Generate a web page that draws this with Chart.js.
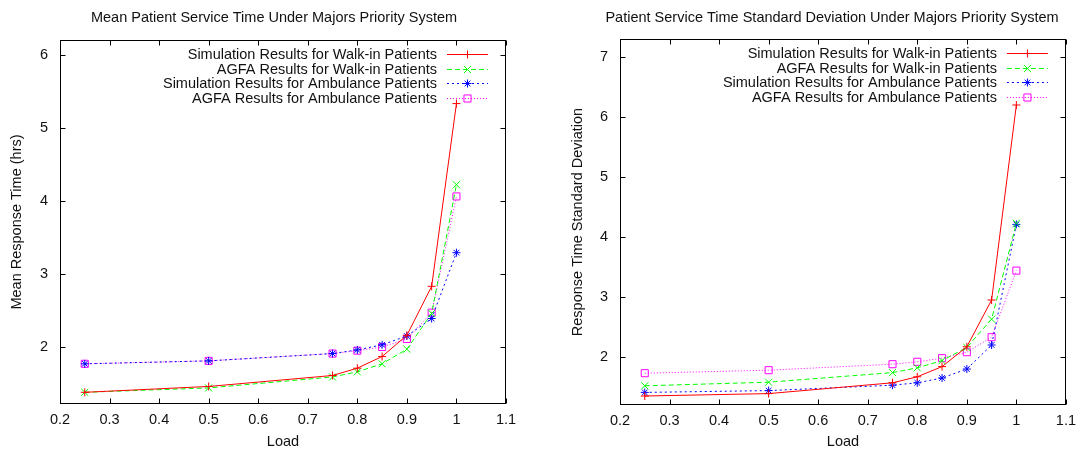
<!DOCTYPE html>
<html>
<head>
<meta charset="utf-8">
<script src="https://cdn.jsdelivr.net/npm/chart.js@4.4.0/dist/chart.umd.min.js"></script>
<style>
    html, body { margin: 0; padding: 0; background: #fff; }
    #wrap { position: relative; width: 1083px; height: 452px; }
    canvas { position: absolute; top: 0; }
    #c-mean { left: 0; }
    #c-sd { left: 541px; }
</style>
</head>
<body>
<div id="wrap">
    <canvas id="c-mean" width="541" height="452"></canvas>
    <canvas id="c-sd" width="542" height="452"></canvas>
</div>
<script>
// Dữ liệu (load = trục x)
const loads = [0.25, 0.5, 0.75, 0.8, 0.85, 0.9, 0.95, 1.0];
const xTicks = [0.2, 0.3, 0.4, 0.5, 0.6, 0.7, 0.8, 0.9, 1, 1.1];

const seriesLabels = [
    'Simulation Results for Walk-in Patients',
    'AGFA Results for Walk-in Patients',
    'Simulation Results for Ambulance Patients',
    'AGFA Results for Ambulance Patients',
];

// Biểu đồ trái: thời gian phục vụ trung bình (giờ)
const meanWalkSim  = [1.38, 1.46, 1.61, 1.71, 1.87, 2.16, 2.83, 5.33];
const meanWalkAgfa = [1.38, 1.44, 1.59, 1.66, 1.77, 1.97, 2.46, 4.22];
const meanAmbSim   = [1.77, 1.81, 1.91, 1.96, 2.03, 2.15, 2.39, 3.29];
const meanAmbAgfa  = [1.77, 1.81, 1.91, 1.95, 2.00, 2.11, 2.47, 4.06];
const meanYTicks = [2, 3, 4, 5, 6];

// Biểu đồ phải: độ lệch chuẩn
const sdWalkSim  = [1.35, 1.39, 1.57, 1.67, 1.84, 2.17, 2.95, 6.20];
const sdWalkAgfa = [1.52, 1.58, 1.74, 1.82, 1.94, 2.16, 2.63, 4.23];
const sdAmbSim   = [1.41, 1.44, 1.53, 1.57, 1.65, 1.80, 2.20, 4.21];
const sdAmbAgfa  = [1.73, 1.78, 1.88, 1.92, 1.98, 2.08, 2.33, 3.44];
const sdYTicks = [2, 3, 4, 5, 6, 7];

const FONT = '"Liberation Sans", Arial, sans-serif';
const FS = 14.5;
const INK = '#111';

// kiểu nét giống gnuplot: đỏ liền +, xanh lá gạch x, xanh dương chấm *, hồng chấm □
const STYLES = [
    { borderColor: '#ff0000', borderDash: [], pointStyle: 'cross', pointRadius: 4 },
    { borderColor: '#00ff00', borderDash: [5, 3], pointStyle: 'crossRot', pointRadius: 5 },
    { borderColor: '#0000ff', borderDash: [2, 3], pointStyle: 'star', pointRadius: 4 },
    { borderColor: '#ff00ff', borderDash: [1, 2], pointStyle: 'rect', pointRadius: 5 },
];

// khung + vạch chia hướng vào trong, lặp cả trên/phải
const frame = {
    id: 'frame',
    beforeDatasetsDraw(chart) {
        const { ctx, chartArea: a, scales: { x, y } } = chart;
        const L = Math.round(a.left) + 0.5, R = Math.round(a.right) - 0.5;
        const T = Math.round(a.top) + 0.5, B = Math.round(a.bottom) - 0.5;
        ctx.save();
        ctx.strokeStyle = '#000';
        ctx.lineWidth = 1;
        ctx.strokeRect(L, T, R - L, B - T);
        ctx.beginPath();
        x.ticks.forEach((t) => {
            const px = Math.round(x.getPixelForValue(t.value)) + 0.5;
            ctx.moveTo(px, B); ctx.lineTo(px, B - 5);
            ctx.moveTo(px, T); ctx.lineTo(px, T + 5);
        });
        y.ticks.forEach((t) => {
            const py = Math.round(y.getPixelForValue(t.value)) + 0.5;
            ctx.moveTo(L, py); ctx.lineTo(L + 5, py);
            ctx.moveTo(R, py); ctx.lineTo(R - 5, py);
        });
        ctx.stroke();
        ctx.restore();
    },
};

// chú thích kiểu gnuplot: chữ căn phải, mẫu nét bên phải
const key = {
    id: 'key',
    afterDatasetsDraw(chart) {
        const { ctx, chartArea: a } = chart;
        ctx.save();
        ctx.font = FS + 'px ' + FONT;
        ctx.textAlign = 'right';
        ctx.textBaseline = 'middle';
        chart.data.datasets.forEach((ds, i) => {
            const yy = Math.round(a.top + 14 + i * 14.6) + 0.5;
            ctx.fillStyle = INK;
            ctx.fillText(ds.label, a.right - 69, yy);
            ctx.strokeStyle = ds.borderColor;
            ctx.lineWidth = 1;
            ctx.setLineDash(ds.borderDash);
            ctx.beginPath();
            ctx.moveTo(a.right - 59, yy);
            ctx.lineTo(a.right - 18, yy);
            ctx.stroke();
            ctx.setLineDash([]);
            ctx.fillStyle = 'rgba(0,0,0,0)';
            Chart.helpers.drawPoint(ctx, { pointStyle: ds.pointStyle, radius: ds.pointRadius, rotation: 0, borderWidth: 1 },
                a.right - 38.5, yy);
        });
        ctx.restore();
    },
};

// tiêu đề vẽ tay để đặt đúng tâm như gnuplot
const topTitle = {
    id: 'topTitle',
    afterDraw(chart, args, opts) {
        const { ctx } = chart;
        ctx.save();
        ctx.font = FS + 'px ' + FONT;
        ctx.fillStyle = INK;
        ctx.textAlign = 'center';
        ctx.textBaseline = 'middle';
        ctx.fillText(opts.text, opts.x, 18);
        ctx.restore();
    },
};

function makeChart(id, c) {
    const datasets = c.series.map((vals, i) => ({
        label: seriesLabels[i],
        data: loads.map((x, j) => ({ x, y: vals[j] })),
        ...STYLES[i],
        pointBorderColor: STYLES[i].borderColor,
        pointBackgroundColor: 'rgba(0,0,0,0)',
        pointBorderWidth: 1,
        pointHoverRadius: STYLES[i].pointRadius,
        borderWidth: 1,
        tension: 0,
        showLine: true,
    }));
    return new Chart(document.getElementById(id), {
        type: 'line',
        data: { datasets },
        plugins: [frame, key, topTitle],
        options: {
            responsive: false,
            animation: false,
            events: [],
            layout: { padding: { top: c.top, right: c.right, bottom: 0, left: 0 } },
            plugins: {
                legend: { display: false },
                title: { display: false },
                tooltip: { enabled: false },
                topTitle: { text: c.title, x: c.titleX },
            },
            scales: {
                x: {
                    type: 'linear', min: 0.2, max: 1.1,
                    afterBuildTicks: (s) => { s.ticks = xTicks.map((v) => ({ value: v })); },
                    afterFit: (s) => { s.height = c.xHeight; },
                    grid: { display: false, drawTicks: false },
                    border: { display: false },
                    ticks: { color: INK, font: { family: FONT, size: FS }, padding: 7, maxRotation: 0,
                        callback: (v) => String(v) },
                    title: { display: true, text: 'Load', color: INK, font: { family: FONT, size: FS },
                        padding: { top: 0, bottom: 1 } },
                },
                y: {
                    type: 'linear', min: c.yMin, max: c.yMax,
                    afterBuildTicks: (s) => { s.ticks = c.yTicks.map((v) => ({ value: v })); },
                    afterFit: (s) => { s.width = c.yWidth; },
                    grid: { display: false, drawTicks: false },
                    border: { display: false },
                    ticks: { color: INK, font: { family: FONT, size: FS }, padding: 12,
                        callback: (v) => String(v) },
                    title: { display: true, text: c.yTitle, color: INK, font: { family: FONT, size: FS },
                        padding: { top: c.yTitlePad, bottom: 0 } },
                },
            },
        },
    });
}

makeChart('c-mean', {
    title: 'Mean Patient Service Time Under Majors Priority System', titleX: 274,
    yTitle: 'Mean Response Time (hrs)', yTitlePad: 8, yWidth: 60,
    yMin: 1.22, yMax: 6.2, yTicks: meanYTicks,
    top: 40, right: 35, xHeight: 48,
    series: [meanWalkSim, meanWalkAgfa, meanAmbSim, meanAmbAgfa],
});

makeChart('c-sd', {
    title: 'Patient Service Time Standard Deviation Under Majors Priority System', titleX: 291,
    yTitle: 'Response Time Standard Deviation', yTitlePad: 28, yWidth: 79,
    yMin: 1.2, yMax: 7.3, yTicks: sdYTicks,
    top: 39, right: 15, xHeight: 47,
    series: [sdWalkSim, sdWalkAgfa, sdAmbSim, sdAmbAgfa],
});
</script>
</body>
</html>
